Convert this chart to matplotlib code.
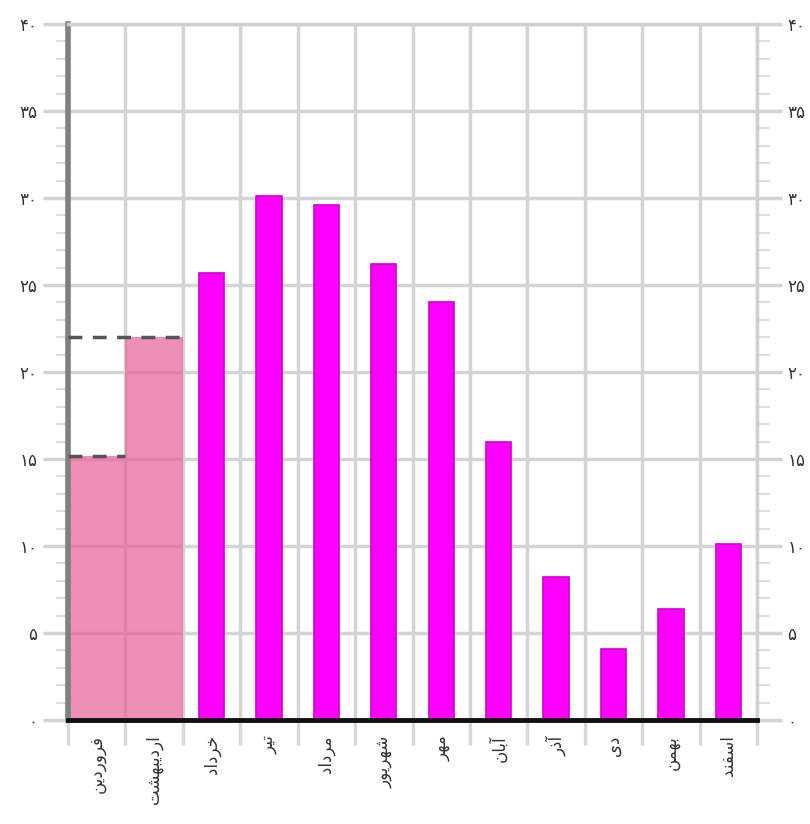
import numpy as np
import matplotlib.pyplot as plt
from matplotlib.ticker import FixedLocator, MultipleLocator

# months (Persian calendar)
months = ["فروردین", "اردیبهشت", "خرداد", "تیر", "مرداد", "شهریور",
          "مهر", "آبان", "آذر", "دی", "بهمن", "اسفند"]

# first two months drawn as wide pale bars, the rest as narrow magenta bars
pale_vals = [15.2, 22.0]
main_vals = [25.7, 30.1, 29.6, 26.2, 24.0, 16.0, 8.2, 4.1, 6.4, 10.1]

y_ticks = [0, 5, 10, 15, 20, 25, 30, 35, 40]
y_labels = ["۰", "۵", "۱۰", "۱۵", "۲۰", "۲۵", "۳۰", "۳۵", "۴۰"]

# simple contextual shaping for the Persian labels (matplotlib has none)
FORMS = {
    'ا': ('\uFE8D', '\uFE8E', None, None),
    'آ': ('\uFE81', '\uFE82', None, None),
    'ب': ('\uFE8F', '\uFE90', '\uFE91', '\uFE92'),
    'ت': ('\uFE95', '\uFE96', '\uFE97', '\uFE98'),
    'خ': ('\uFEA5', '\uFEA6', '\uFEA7', '\uFEA8'),
    'د': ('\uFEA9', '\uFEAA', None, None),
    'ذ': ('\uFEAB', '\uFEAC', None, None),
    'ر': ('\uFEAD', '\uFEAE', None, None),
    'س': ('\uFEB1', '\uFEB2', '\uFEB3', '\uFEB4'),
    'ش': ('\uFEB5', '\uFEB6', '\uFEB7', '\uFEB8'),
    'ف': ('\uFED1', '\uFED2', '\uFED3', '\uFED4'),
    'م': ('\uFEE1', '\uFEE2', '\uFEE3', '\uFEE4'),
    'ن': ('\uFEE5', '\uFEE6', '\uFEE7', '\uFEE8'),
    'ه': ('\uFEE9', '\uFEEA', '\uFEEB', '\uFEEC'),
    'و': ('\uFEED', '\uFEEE', None, None),
    'ی': ('\uFEEF', '\uFEF0', '\uFEF3', '\uFEF4'),
}


def shape(word):
    out = []
    for i, ch in enumerate(word):
        iso, fin, ini, med = FORMS[ch]
        prev_j = i > 0 and FORMS[word[i - 1]][2] is not None
        next_j = ini is not None and i < len(word) - 1
        if prev_j and next_j:
            out.append(med)
        elif prev_j:
            out.append(fin)
        elif next_j:
            out.append(ini)
        else:
            out.append(iso)
    return ''.join(reversed(out))


plt.rcParams['font.family'] = ['DejaVu Sans']

fig = plt.figure(figsize=(8.1, 8.24), dpi=100)
ax = fig.add_axes([0.084, 0.1262, 0.8506, 0.8447])

x = np.arange(len(months))
n_pale = len(pale_vals)

ax.bar(x[:n_pale], pale_vals, width=1.0, color='#e8609a', alpha=0.7,
       linewidth=0, zorder=1)
ax.bar(x[n_pale:], main_vals, width=0.44, color='#ff00ff',
       edgecolor='#d000d0', linewidth=1.2, zorder=3)

# dashed marks at the top of the pale bars, from the left edge
for i, v in enumerate(pale_vals):
    ax.plot([-0.5, i + 0.5], [v, v], color='#555555', lw=2.5,
            dashes=(4, 3), zorder=4)

ax.set_xlim(-0.5, len(months) - 0.5)
ax.set_ylim(0, 40)

ax.set_yticks(y_ticks)
ax.set_yticklabels(y_labels)
ax.yaxis.set_minor_locator(MultipleLocator(1))

ax.xaxis.set_major_locator(FixedLocator(np.arange(-0.5, len(months), 1.0)))
ax.xaxis.set_major_formatter(plt.NullFormatter())
ax.xaxis.set_minor_locator(FixedLocator(x))
ax.set_xticklabels([shape(m) for m in months], minor=True, rotation=90,
                   fontsize=12, color='#333333')

ax.grid(True, which='major', color='#d4d4d4', lw=2.5, zorder=0)
ax.set_axisbelow(True)

ax.tick_params(axis='y', which='major', left=True, right=True,
               labelleft=True, labelright=True, length=18, width=2.5,
               color='#d4d4d4', labelsize=12, labelcolor='#333333', pad=4)
ax.tick_params(axis='y', which='minor', left=True, right=True,
               length=9, width=1.5, color='#dedede')
ax.tick_params(axis='x', which='major', length=18, width=2.5, color='#d8d8d8')
ax.tick_params(axis='x', which='minor', length=0, pad=11)

ax.spines['left'].set_color('#808080')
ax.spines['left'].set_linewidth(4)
ax.spines['bottom'].set_color('#111111')
ax.spines['bottom'].set_linewidth(3.5)
ax.spines['bottom'].set_zorder(5)
ax.spines['top'].set_color('#d0d0d0')
ax.spines['top'].set_linewidth(2.5)
ax.spines['right'].set_color('#d0d0d0')
ax.spines['right'].set_linewidth(2.5)

fig.savefig('out.png', dpi=100, facecolor='white')
